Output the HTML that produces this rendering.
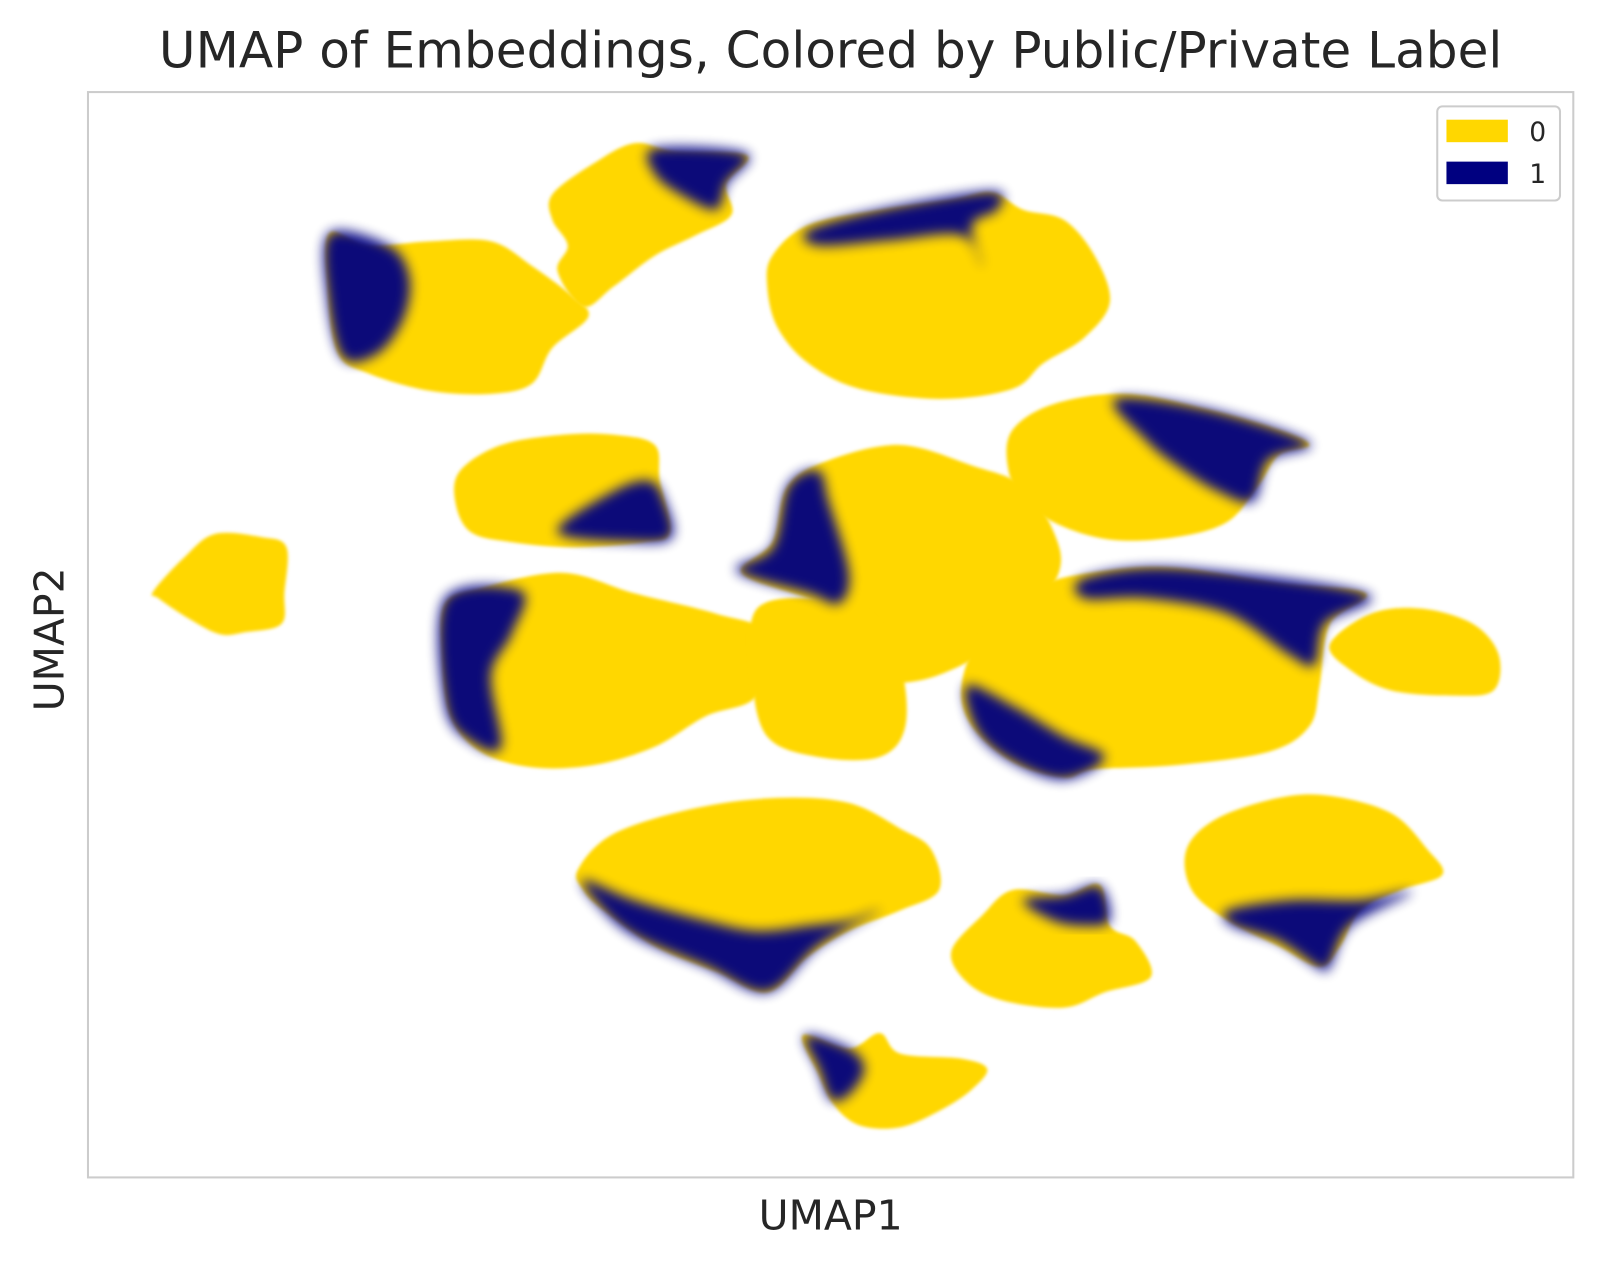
<!DOCTYPE html>
<html><head><meta charset="utf-8">
<style>
html,body{margin:0;padding:0;background:#fff;}
svg{display:block;}
text{font-family:"DejaVu Sans","Liberation Sans",sans-serif;fill:#262626;}
</style></head>
<body>
<svg id="chart" width="1604" height="1266" viewBox="0 0 1568 1237.6" xmlns="http://www.w3.org/2000/svg">
<defs>
<filter id="soft" x="-20%" y="-20%" width="140%" height="140%"><feGaussianBlur stdDeviation="6"/></filter>
<filter id="edge" x="-10%" y="-10%" width="120%" height="120%"><feGaussianBlur stdDeviation="1.5"/></filter>
</defs>
<rect x="0" y="0" width="1568" height="1238" fill="#fff"/>
<text x="812" y="66" font-size="49" text-anchor="middle">UMAP of Embeddings, Colored by Public/Private Label</text>
<rect x="86" y="90" width="1452" height="1061" fill="#fff" stroke="#cccccc" stroke-width="2"/>
<g id="marks"></g>
<text x="812" y="1202" font-size="40" text-anchor="middle">UMAP1</text>
<text x="0" y="0" font-size="40" text-anchor="middle" transform="translate(62,625) rotate(-90)">UMAP2</text>
<g>
<rect x="1405" y="104" width="120" height="92" rx="5" fill="#fff" stroke="#cccccc" stroke-width="2"/>
<rect x="1414" y="117" width="60" height="22" fill="#FFD700"/>
<text x="1495" y="138" font-size="26">0</text>
<rect x="1414" y="158" width="60" height="22" fill="#000080"/>
<text x="1495" y="179" font-size="26">1</text>
</g>
</svg>
<script>
// Axis domains (UMAP units)
const xDomain=[8.6,153.8], yDomain=[4.9,111.0];
const xRange=[86,1538], yRange=[1151,90];
function sx(v){return xRange[0]+(v-xDomain[0])/(xDomain[1]-xDomain[0])*(xRange[1]-xRange[0]);}
function sy(v){return yRange[0]+(v-yDomain[0])/(yDomain[1]-yDomain[0])*(yRange[1]-yRange[0]);}

// Cluster outlines (label 0 density hulls), [UMAP1, UMAP2]
const clusterA=[[32.2,97.2],[36,96],[42,96.4],[48,96.4],[52,94],[56,91],[57.5,89],[54,86],[52,82.5],[48,81.5],[42,81.8],[36,83.5],[33,85.5],[32,92]];
const clusterB=[[54,101],[58,104],[62,106],[66,105.2],[73,104.8],[71,102],[71.5,99],[68,97],[64,95],[60,92],[57,90],[54.5,93.5],[55.5,96],[54,98.5]];
const clusterC=[[75.5,95],[79,98],[86,99.5],[93,100.5],[97,101.2],[100,99.5],[104,98.5],[107,95],[108.5,90.5],[106,87],[102,84.5],[99,82],[92,81],[84,82],[79,84.5],[76,88],[75,92]];
const clusterD=[[99,78],[103,80.5],[110,81.5],[118,80],[125,78],[128,76.5],[125,75.5],[123,72.5],[120,69],[115,67.5],[109,67.2],[104,68.5],[100,71],[98.5,74.5]];
const clusterE=[[45,74],[49,76.5],[55,77.5],[60,77.5],[64,76.5],[64.5,73],[65.5,68],[63,67],[56,66.5],[50,67],[46,68],[44.5,71]];
const clusterF=[[15,62.2],[18,65.5],[21,67.8],[25.5,67.5],[28,66.5],[27.8,62],[27.5,59],[24,58.2],[21.5,58],[18.5,59.5],[15.5,61.5]];
const clusterG=[[72.5,64],[75.5,67],[77,72.5],[81,75],[88,76.5],[95,74.5],[100,72.5],[103,68],[103.5,64],[100,59],[96,56],[90,53.5],[85,54],[82,60],[79,61.5]];
const clusterH=[[43.5,61],[47,62.5],[55,64],[62,62],[70,60],[75,58],[74,52],[69,50],[64,47],[58,45.2],[52,45],[47,46.5],[44,50],[43.2,56]];
const clusterHG=[[74,60.5],[80,61.5],[85,60],[88,55],[88.5,49],[86,46],[80,46],[75,48],[73.5,54]];
const clusterI=[[96,58],[101,62.5],[108,64.2],[115,64.5],[125,63],[133.5,62],[130,59],[129,53],[128,49],[124,46.5],[115,45.2],[107,44.8],[104,44],[99,45.5],[95,49],[94,53]];
const clusterJ=[[130,57],[134,60],[139,60.5],[144,59],[146.5,56],[146,52.5],[142,52],[136,52.5],[132,54.5]];
const clusterK=[[56.5,35],[60,38.5],[68,41],[76,42],[83,41.5],[88,39],[91,37],[91.8,33],[88,31],[83,29],[79,26.5],[75,23],[70,25],[64,27.5],[59,31],[57,33]];
const clusterL=[[93,27],[96,30.5],[99,33],[104,32.5],[107.5,33.5],[108.5,29.5],[111,28],[112.5,24.5],[108,23],[104,21.5],[98,22.2],[94.5,24]];
const clusterM=[[116,37],[119,40],[125,42],[130,42.2],[136,40.5],[139.5,37],[141,34.5],[137,33],[133,31],[131,27.5],[129,25.5],[125,27.5],[120,30],[116.5,33]];
const clusterN=[[78.5,18.8],[83,17.5],[86,19],[88,17],[94,16.5],[96.5,15.5],[95,13.5],[92,11.5],[88,9.8],[84,10],[81.5,12],[80,15]];
const clusters=[clusterA,clusterB,clusterC,clusterD,clusterE,clusterF,clusterG,clusterH,clusterHG,clusterI,clusterJ,clusterK,clusterL,clusterM,clusterN];
const clusterNames=['a','b','c','d','e','f','g','h','hg','i','j','k','l','m','n'];

// Label-1 dominant regions
const blueA=[[32.2,97.2],[38,96],[40,93],[39.5,89],[37,85.5],[33.5,85],[32,91]];
const blueB=[[64,105.5],[73,105],[71,102],[70,99.5],[66.5,101],[64,103]];
const blueC=[[79,97.5],[86,99.5],[97,101.3],[97.5,99.5],[95,98],[96,94],[94,97],[87,96.5],[80,96]];
const blueD=[[109,81],[118,80],[128,76.7],[124,75],[122.5,71],[119,72],[115,74.5],[112,77]];
const blueE=[[54.5,68],[60,72],[63.5,73],[65,71],[65.7,67.5],[62,67]];
const blueG=[[72,64.2],[75.5,66.5],[77,72.5],[80,74],[81,71],[83,64],[82,61],[79,62]];
const blueH=[[43.5,61.5],[51,62.2],[50,58],[48,54],[49,47],[46,47.5],[43.5,51]];
const blueI1=[[106,63.5],[115,64.5],[133.5,62],[129.5,59],[128.5,55],[126,56],[120,60],[112,61.5],[106,61.5]];
const blueI2=[[94.5,53],[99,51],[104,48],[108,46],[104,43.8],[99,45.5],[95.5,48.5]];
const blueK=[[57,34],[62,32],[69,30],[74,29],[79,29.5],[83,30],[86,31],[80,27.5],[75,23],[69,25.5],[62,28.5],[58.5,31.5]];
const blueL=[[100,32],[104,32.5],[107.5,33.4],[108.5,30],[106,29.5],[103,30]];
const blueM=[[120,31],[126,32],[133,32],[138,32.8],[132,29.5],[130,25.5],[129,25.3],[125,28],[120.5,29.5]];
const blueN=[[78.7,18.8],[83,17.5],[84.5,15.5],[83,13],[81.2,12.5],[80,15.5]];
const blueRegions=[blueA,blueB,blueC,blueD,blueE,blueG,blueH,blueI1,blueI2,blueK,blueL,blueM,blueN];

function smoothPath(pts){
  const p=pts.map(d=>[sx(d[0]),sy(d[1])]);
  const n=p.length;let s='M'+p[0][0].toFixed(1)+','+p[0][1].toFixed(1);
  for(let i=0;i<n;i++){
    const p0=p[(i-1+n)%n],p1=p[i],p2=p[(i+1)%n],p3=p[(i+2)%n];
    const c1=[p1[0]+(p2[0]-p0[0])/6,p1[1]+(p2[1]-p0[1])/6];
    const c2=[p2[0]-(p3[0]-p1[0])/6,p2[1]-(p3[1]-p1[1])/6];
    s+='C'+c1.map(v=>v.toFixed(1)).join(',')+' '+c2.map(v=>v.toFixed(1)).join(',')+' '+p2.map(v=>v.toFixed(1)).join(',');
  }
  return s+'Z';
}
const NS='http://www.w3.org/2000/svg';
const g=document.getElementById('marks');
clusters.forEach((c,i)=>{
  const path=document.createElementNS(NS,'path');
  path.setAttribute('d',smoothPath(c));
  path.setAttribute('fill','#FFD700');
  path.setAttribute('filter','url(#edge)');
  
  
  g.appendChild(path);
});
const bg=document.createElementNS(NS,'g');


g.appendChild(bg);
blueRegions.forEach((c,i)=>{
  const path=document.createElementNS(NS,'path');
  path.setAttribute('d',smoothPath(c));
  path.setAttribute('fill','#000080');
  path.setAttribute('opacity','0.95');
  path.setAttribute('filter','url(#soft)');
  
  
  bg.appendChild(path);
});
</script>
</body></html>
